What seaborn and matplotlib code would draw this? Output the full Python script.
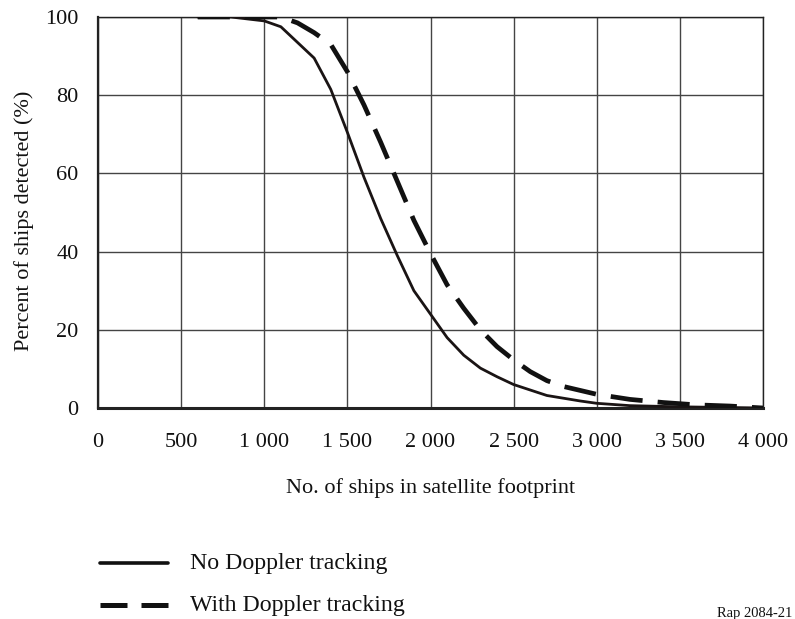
import numpy as np
import pandas as pd
import matplotlib
matplotlib.use("Agg")
import matplotlib.pyplot as plt
from matplotlib.lines import Line2D
import seaborn as sns

# Data
ships_no = [600, 800, 1000, 1100, 1200, 1300, 1400, 1500, 1600, 1700, 1800, 1900,
            2000, 2100, 2200, 2300, 2400, 2500, 2600, 2700, 2800, 2900, 3000,
            3200, 3500, 4000]
pct_no = [100, 100, 99, 97.5, 93.5, 89.5, 81.5, 70.5, 59, 48.5, 39, 30,
          24, 18, 13.5, 10.2, 8, 6, 4.6, 3.2, 2.5, 1.8, 1.2,
          0.6, 0.3, 0]

ships_dop = [600, 800, 1000, 1100, 1200, 1300, 1400, 1500, 1600, 1700, 1800, 1900,
             2000, 2100, 2200, 2300, 2400, 2500, 2600, 2700, 2800, 2900, 3000,
             3200, 3400, 3600, 3800, 4000]
pct_dop = [100, 100, 100, 100, 98.5, 96, 93, 86, 77.5, 68, 58, 48,
           39.5, 31.5, 25.5, 20, 15.7, 12.3, 9.3, 7, 5.5, 4.5, 3.5,
           2.2, 1.4, 0.8, 0.5, 0]

series_names = ["No Doppler tracking", "With Doppler tracking"]
x_ticks = [0, 500, 1000, 1500, 2000, 2500, 3000, 3500, 4000]
x_tick_labels = ["0", "500", "1 000", "1 500", "2 000", "2 500", "3 000", "3 500", "4 000"]
y_ticks = [0, 20, 40, 60, 80, 100]

df = pd.concat([
    pd.DataFrame({"ships": ships_no, "pct": pct_no, "series": series_names[0]}),
    pd.DataFrame({"ships": ships_dop, "pct": pct_dop, "series": series_names[1]}),
])

sns.set_style("white")
plt.rcParams["font.family"] = ["Liberation Serif", "DejaVu Serif"]

FS = 16
fig = plt.figure(figsize=(7.95, 6.19), dpi=100)
ax = fig.add_axes([98 / 795, 1 - 408 / 619, (763 - 98) / 795, (408 - 17) / 619])

sns.lineplot(data=df[df.series == series_names[0]], x="ships", y="pct", ax=ax,
             color="#1a1414", lw=2.0, legend=False, estimator=None, zorder=3)
sns.lineplot(data=df[df.series == series_names[1]], x="ships", y="pct", ax=ax,
             color="#111111", lw=3.4, legend=False, estimator=None, zorder=3)
ax.lines[1].set_dashes((6.8, 3.2))
ax.lines[1].set_dash_capstyle("butt")

ax.set_xlim(0, 4000)
ax.set_ylim(0, 100)
ax.set_xticks(x_ticks)
ax.set_xticklabels(x_tick_labels)
ax.set_yticks(y_ticks)
ax.grid(True, color="#444444", lw=1.0)
for s in ax.spines.values():
    s.set_visible(True)
    s.set_color("#222222")
    s.set_linewidth(1.0)
ax.spines["bottom"].set_linewidth(2.2)
ax.spines["left"].set_linewidth(1.6)
ax.tick_params(axis="both", which="both", direction="out", length=4, width=1,
               color="#444444", labelsize=FS, labelcolor="#111111")
ax.tick_params(axis="y", pad=10)
ax.tick_params(axis="x", pad=14)
ax.set_xlabel("No. of ships in satellite footprint", fontsize=FS, color="#111111")
ax.set_ylabel("Percent of ships detected (%)", fontsize=FS, color="#111111")
ax.xaxis.set_label_coords(0.5, -(478 - 408) / 391)
ax.yaxis.set_label_coords(-(98 - 34) / 665, 0.48)

# legend drawn below the plot
fig.add_artist(Line2D([100 / 795, 168 / 795], [1 - 563 / 619] * 2, color="#111111", lw=2.6))
fig.add_artist(Line2D([100 / 795, 168 / 795], [1 - 605 / 619] * 2, color="#111111", lw=3.6,
                      dashes=(5.4, 2.8), dash_capstyle="butt"))
fig.text(190 / 795, 1 - 563 / 619, series_names[0], fontsize=17.2, va="center", ha="left", color="#111111")
fig.text(190 / 795, 1 - 605 / 619, series_names[1], fontsize=17.2, va="center", ha="left", color="#111111")
fig.text(755 / 795, 1 - 613 / 619, "Rap 2084-21", fontsize=10.5, va="center", ha="center", color="#111111")

fig.savefig("out.png", dpi=100)
